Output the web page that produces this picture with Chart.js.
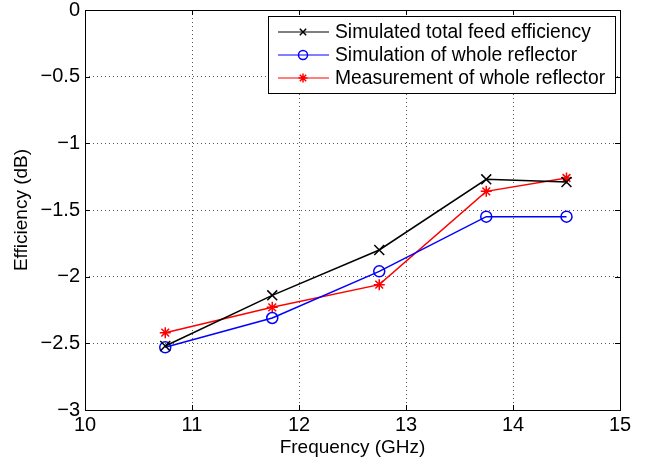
<!DOCTYPE html>
<html>
<head>
<meta charset="utf-8">
<script src="https://cdn.jsdelivr.net/npm/chart.js@4.4.0/dist/chart.umd.min.js"></script>
<style>
  html, body { margin: 0; padding: 0; background: #fff; }
  #wrap { width: 652px; height: 464px; }
</style>
</head>
<body>
<div id="wrap"><canvas id="effChart" width="652" height="464"></canvas></div>
<script>
// data
const freqs = [10.75, 11.75, 12.75, 13.75, 14.5];
const simFeed = [-2.52, -2.14, -1.8, -1.27, -1.29];
const simReflector = [-2.53, -2.31, -1.96, -1.55, -1.55];
const measReflector = [-2.42, -2.23, -2.06, -1.36, -1.26];
const seriesNames = ['Simulated total feed efficiency', 'Simulation of whole reflector', 'Measurement of whole reflector'];

const FONT = 'Liberation Sans, Arial, Helvetica, sans-serif';

const pts = ys => freqs.map((f, i) => ({ x: f, y: ys[i] }));

// box round the plot with inward ticks, MATLAB style
const frame = {
    id: 'frame',
    afterDatasetsDraw(chart) {
        const { ctx, chartArea: a, scales } = chart;
        ctx.save();
        ctx.strokeStyle = '#000';
        ctx.lineWidth = 1;
        ctx.beginPath();
        scales.x.ticks.forEach(t => {
            const px = Math.round(scales.x.getPixelForValue(t.value)) + 0.5;
            ctx.moveTo(px, a.bottom); ctx.lineTo(px, a.bottom - 5);
            ctx.moveTo(px, a.top); ctx.lineTo(px, a.top + 5);
        });
        scales.y.ticks.forEach(t => {
            const py = Math.round(scales.y.getPixelForValue(t.value)) + 0.5;
            ctx.moveTo(a.left, py); ctx.lineTo(a.left + 5, py);
            ctx.moveTo(a.right, py); ctx.lineTo(a.right - 5, py);
        });
        ctx.stroke();
        ctx.strokeRect(Math.round(a.left) + 0.5, Math.round(a.top) + 0.5,
            Math.round(a.right - a.left), Math.round(a.bottom - a.top));
        ctx.restore();
    }
};

// legend box inside the upper right corner
const boxLegend = {
    id: 'boxLegend',
    afterDraw(chart) {
        const { ctx, chartArea: a } = chart;
        const w = 347, h = 77;
        const x0 = a.right - 5 - w, y0 = a.top + 6;
        ctx.save();
        ctx.fillStyle = '#fff';
        ctx.fillRect(x0, y0, w, h);
        ctx.strokeStyle = '#000';
        ctx.lineWidth = 1;
        ctx.strokeRect(Math.round(x0) + 0.5, Math.round(y0) + 0.5, w, h);
        ctx.font = '19.3px ' + FONT;
        ctx.textBaseline = 'middle';
        chart.data.datasets.forEach((ds, i) => {
            const y = y0 + 16 + i * 23;
            ctx.strokeStyle = ds.borderColor;
            ctx.lineWidth = 1.2;
            ctx.beginPath();
            ctx.moveTo(x0 + 10, y); ctx.lineTo(x0 + 61, y);
            ctx.stroke();
            ctx.fillStyle = 'rgba(0,0,0,0)';
            ctx.lineWidth = 1.5;
            Chart.helpers.drawPoint(ctx, { pointStyle: ds.pointStyle, radius: 4.5, rotation: 0, borderWidth: 1.5 }, x0 + 35, y);
            ctx.fillStyle = '#000';
            ctx.fillText(ds.label, x0 + 67, y + 1);
        });
        ctx.restore();
    }
};

const yLabel = v => v === 0 ? '0' : '\u2212' + Math.abs(v);

new Chart(document.getElementById('effChart'), {
    type: 'line',
    data: {
        datasets: [
            {
                label: seriesNames[0],
                data: pts(simFeed),
                borderColor: '#000000',
                backgroundColor: 'rgba(0,0,0,0)',
                pointStyle: 'crossRot',
                pointRadius: 7,
                pointBorderWidth: 1.5,
                borderWidth: 1.5,
            },
            {
                label: seriesNames[1],
                data: pts(simReflector),
                borderColor: '#0000ff',
                backgroundColor: 'rgba(0,0,0,0)',
                pointStyle: 'circle',
                pointRadius: 5.5,
                pointBorderWidth: 1.5,
                borderWidth: 1.5,
            },
            {
                label: seriesNames[2],
                data: pts(measReflector),
                borderColor: '#ff0000',
                backgroundColor: 'rgba(0,0,0,0)',
                pointStyle: 'star',
                pointRadius: 5.5,
                pointBorderWidth: 1.5,
                borderWidth: 1.5,
            }
        ]
    },
    options: {
        responsive: false,
        animation: false,
        layout: { padding: { top: 0, right: 32, left: 0, bottom: 0 } },
        plugins: {
            legend: { display: false },
            tooltip: { enabled: false }
        },
        scales: {
            x: {
                type: 'linear',
                min: 10,
                max: 15,
                ticks: { stepSize: 1, color: '#000', padding: 3, font: { family: FONT, size: 20 } },
                grid: { color: '#555', drawTicks: false, lineWidth: 1 },
                border: { display: false, dash: [1, 3] },
                title: { display: true, text: 'Frequency (GHz)', color: '#000', padding: { top: 5, bottom: 5 }, font: { family: FONT, size: 19 } },
                afterFit: s => { s.height = 54; }
            },
            y: {
                min: -3,
                max: 0,
                ticks: { stepSize: 0.5, color: '#000', padding: 5, font: { family: FONT, size: 20, lineHeight: 0.5 }, callback: yLabel },
                grid: { color: '#555', drawTicks: false, lineWidth: 1 },
                border: { display: false, dash: [1, 3] },
                title: { display: true, text: 'Efficiency (dB)', color: '#000', padding: { top: 10, bottom: 10 }, font: { family: FONT, size: 19 } },
                afterFit: s => { s.width = 85; }
            }
        }
    },
    plugins: [frame, boxLegend]
});
</script>
</body>
</html>
